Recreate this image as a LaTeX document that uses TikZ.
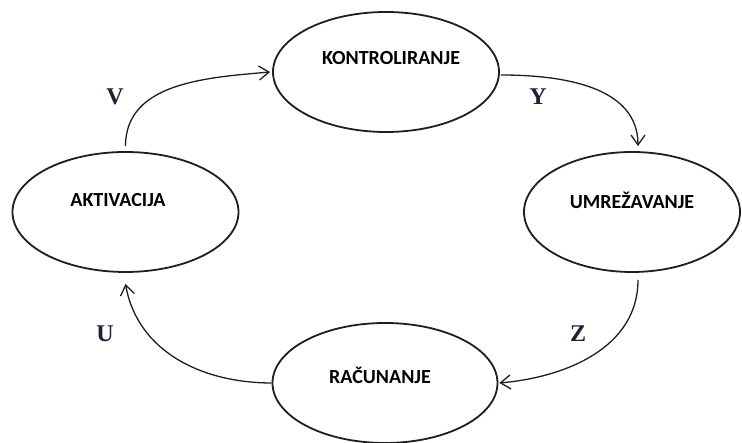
\documentclass[tikz,border=0pt]{standalone}
\usepackage{fontspec}
\newfontfamily\nodefont{Carlito}
\newfontfamily\labfont{Liberation Serif}
\usetikzlibrary{shapes.geometric,arrows.meta}
\definecolor{ink}{HTML}{1E1E1E}
\definecolor{labink}{HTML}{1B2233}
\tikzset{
  stage/.style={draw=ink, line width=1.8pt, ellipse, inner sep=0pt,
    minimum width=#1, minimum height=120pt},
  stagetext/.style={font=\nodefont\bfseries\fontsize{20}{20}\selectfont, inner sep=0pt, text=black},
  flow/.style={draw=ink, line width=1.3pt, -{Straight Barb[length=10pt,width=14pt]}},
  letter/.style={font=\labfont\bfseries\fontsize{24}{24}\selectfont, text=labink, inner sep=0pt}
}
\begin{document}
\begin{tikzpicture}[x=1pt,y=1pt]
\useasboundingbox (0,0) rectangle (742,443);
\node[stage=226pt] (K) at (386,371) {};
\node[stage=226pt] (A) at (125.5,231) {};
\node[stage=216pt] (M) at (632,231) {};
\node[stage=225pt] (R) at (385,60) {};
\node[stagetext] (Kt) at (391,385) {KONTROLIRANJE};
\node[stagetext] (At) at (118,243) {AKTIVACIJA};
\node[stagetext] (Mt) at (632,243) {UMREŽAVANJE};
\node[stagetext] (Rt) at (380,68) {RAČUNANJE};
\draw[flow] ([yshift=5pt]A.north) to[out=90,in=185] ([xshift=-2pt]K.west);
\draw[flow] ([xshift=1pt,yshift=-3pt]K.east) to[out=0,in=90] ([xshift=6pt,yshift=5pt]M.north);
\draw[flow] ([xshift=6pt,yshift=-7pt]M.south) to[out=-90,in=5] ([xshift=1pt]R.east);
\draw[flow] (R.west) to[out=180,in=-80] ([yshift=-11pt]A.south);
\node[letter] (V) at (115,346) {V};
\node[letter] (Y) at (538,346) {Y};
\node[letter] (Z) at (578,109) {Z};
\node[letter] (U) at (105,109) {U};
\end{tikzpicture}
\end{document}
